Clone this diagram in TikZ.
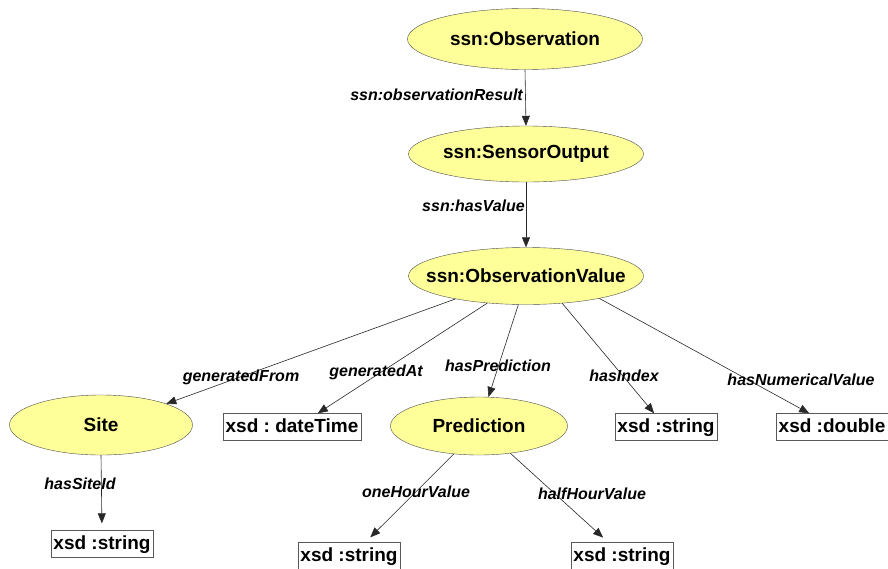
\documentclass[tikz,border=0pt]{standalone}
\usepackage{fontspec}
\setmainfont{Liberation Sans}
\usetikzlibrary{shapes.geometric,arrows.meta}
\frenchspacing
\definecolor{cls}{RGB}{255,255,153}
\definecolor{edgec}{RGB}{40,40,40}
\tikzset{
  cnode/.style={ellipse, draw=black!70, fill=cls, inner sep=0pt, font=\bfseries\fontsize{19}{21}\selectfont},
  dnode/.style={rectangle, draw=black!65, fill=white, inner xsep=2.5pt, inner ysep=4.5pt, text height=14pt, text depth=4pt, font=\bfseries\fontsize{19}{21}\selectfont},
  elabel/.style={inner sep=0pt, text height=12pt, text depth=3.5pt, font=\bfseries\itshape\fontsize{16}{18}\selectfont},
  rel/.style={draw=edgec, line width=0.6pt, -{Triangle[length=10pt,width=8pt]}}
}
\newcommand{\ctext}[1]{\makebox[0pt]{#1}}
\begin{document}
\begin{tikzpicture}[x=1pt,y=-1pt]
\useasboundingbox[fill=white] (0,0) rectangle (888,568);
% class nodes
\node[cnode, minimum width=235pt, minimum height=61pt] (obs) at (525,39) {\ctext{ssn:Observation}};
\node[cnode, minimum width=235pt, minimum height=56pt] (so) at (526,154) {\ctext{ssn:SensorOutput}};
\node[cnode, minimum width=235pt, minimum height=57pt] (ov) at (526,276) {\ctext{ssn:ObservationValue}};
\node[cnode, minimum width=183pt, minimum height=60pt] (site) at (101,425) {\ctext{Site}};
\node[cnode, minimum width=177pt, minimum height=58pt] (pred) at (479,426) {\ctext{Prediction}};
% datatype nodes
\node[dnode] (dt) at (292,427) {xsd : dateTime};
\node[dnode] (idx) at (666,427) {xsd :string};
\node[dnode, anchor=west] (dbl) at (776,427) {xsd :double};
\node[dnode] (ss) at (102,544) {xsd :string};
\node[dnode] (oh) at (349,556) {xsd :string};
\node[dnode] (hh) at (622,556) {xsd :string};
% edges
\draw[rel] (obs.south) -- (so.north);
\draw[rel] (so.south) -- (ov.north);
\draw[rel] (ov.198) -- (site.18);
\draw[rel] (ov.215) -- (dt.28);
\draw[rel] (ov.255) -- (pred.72);
\draw[rel] (ov.323) -- (idx.131);
\draw[rel] (ov.343) -- (dbl.149);
\draw[rel, shorten >=7pt] (site.south) -- (ss.north);
\draw[rel, shorten >=7pt] (pred.228) -- (oh.40);
\draw[rel, shorten >=7pt] (pred.319) -- (hh.135);
% edge labels
\node[elabel, anchor=east] (l1) at (523,96) {ssn:observationResult};
\node[elabel, anchor=east] (l2) at (525,207) {ssn:hasValue};
\node[elabel] (l3) at (241,377) {generatedFrom};
\node[elabel] (l4) at (376,372) {generatedAt};
\node[elabel] (l5) at (498,367) {hasPrediction};
\node[elabel] (l6) at (624,377) {hasIndex};
\node[elabel] (l7) at (801,381) {hasNumericalValue};
\node[elabel] (l8) at (80,485) {hasSiteId};
\node[elabel] (l9) at (416,493) {oneHourValue};
\node[elabel] (l10) at (592,495) {halfHourValue};
\end{tikzpicture}
\end{document}
